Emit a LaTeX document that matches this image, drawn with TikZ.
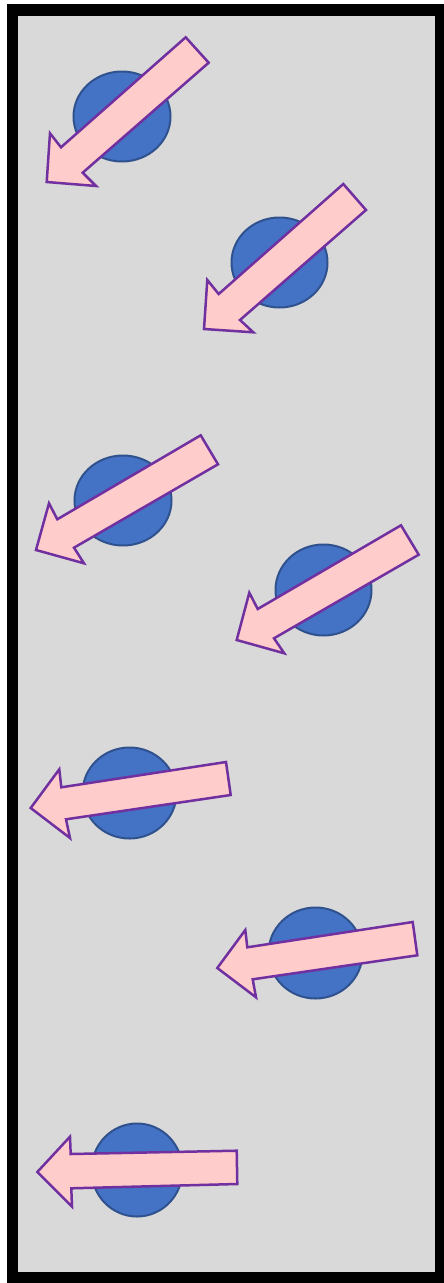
\documentclass[tikz,border=0pt]{standalone}
\definecolor{ballfill}{HTML}{4472C4}
\definecolor{ballline}{HTML}{2F528F}
\definecolor{arrfill}{HTML}{FFCCCC}
\definecolor{arrline}{HTML}{7030A0}
\definecolor{panel}{HTML}{D9D9D9}
\begin{document}
\begin{tikzpicture}[x=1pt,y=-1pt,
  ball/.style={fill=ballfill,draw=ballline,line width=2pt},
  bigarrow/.style={fill=arrfill,draw=arrline,line width=2.5pt,line join=miter},
  frame/.style={fill=panel,draw=black,line width=11.5pt}]
\useasboundingbox (0,0) rectangle (444,1283);
\fill[white] (0,0) rectangle (444,1283);
\draw[frame] (12.5,10) rectangle (440.5,1277.5);
% balls
\draw[ball] (122,116.5) ellipse [x radius=48.5, y radius=45];
\draw[ball] (279.5,262.5) ellipse [x radius=48, y radius=45];
\draw[ball] (123,500.5) ellipse [x radius=48.5, y radius=45];
\draw[ball] (323.5,590) ellipse [x radius=48, y radius=45.5];
\draw[ball] (129.5,793) ellipse [x radius=47, y radius=45.5];
\draw[ball] (315.5,953) ellipse [x radius=47, y radius=45.5];
\draw[ball] (137,1170) ellipse [x radius=45.5, y radius=46.5];
% arrows
\draw[bigarrow] (185.7,37.3) -- (208.7,62.7) -- (82.7,172.7) -- (96,186) -- (46.7,182) -- (50,133.3) -- (61,147.3) -- cycle;
\draw[bigarrow] (343.3,184) -- (366,210) -- (240,320) -- (253.3,332.3) -- (204,329) -- (207.3,280) -- (218.7,294) -- cycle;
\draw[bigarrow] (200.7,435.3) -- (218,464.3) -- (74,547.7) -- (84,563.3) -- (36,550) -- (49,503.3) -- (57.3,519.3) -- cycle;
\draw[bigarrow] (401,525.3) -- (418.7,554.7) -- (274,638.3) -- (284.3,653.3) -- (236.7,640) -- (249.3,592.7) -- (257.7,609) -- cycle;
\draw[bigarrow] (226,762) -- (230.7,795) -- (66,819.3) -- (70,838) -- (30.7,808) -- (59.3,769.3) -- (61.3,787.3) -- cycle;
\draw[bigarrow] (412.7,922) -- (417.3,955.3) -- (252.7,979.3) -- (256,997.3) -- (217.3,968) -- (245.3,930) -- (247.3,947.3) -- cycle;
\draw[bigarrow] (236.7,1150.7) -- (237.3,1184) -- (71.3,1188.3) -- (72,1206.7) -- (37.3,1172) -- (70,1136.7) -- (70.7,1154) -- cycle;
\end{tikzpicture}
\end{document}
